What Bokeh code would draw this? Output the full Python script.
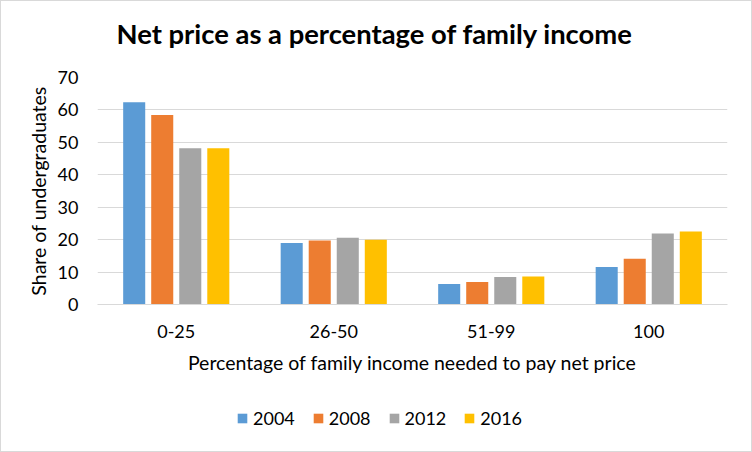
from bokeh.plotting import figure
from bokeh.layouts import column
from bokeh.models import ColumnDataSource, FactorRange, Legend, LegendItem, SingleIntervalTicker, Range1d, Title
from bokeh.transform import dodge
from bokeh.embed import file_html
from bokeh.resources import INLINE

categories = ["0-25", "26-50", "51-99", "100"]
years = ["2004", "2008", "2012", "2016"]
v2004 = [62.4, 19.0, 6.3, 11.6]
v2008 = [58.4, 19.7, 6.9, 14.1]
v2012 = [48.2, 20.6, 8.5, 21.9]
v2016 = [48.2, 20.0, 8.6, 22.5]
colors = ["#5B9BD5", "#ED7D31", "#A5A5A5", "#FFC000"]

source = ColumnDataSource(dict(cat=categories, y2004=v2004, y2008=v2008, y2012=v2012, y2016=v2016))

FONT = "Lato"

p = figure(title=None, x_range=FactorRange(*categories, range_padding=0), y_range=(0, 70),
           width=750, height=379, output_backend="svg", toolbar_location=None,
           min_border_left=96, min_border_right=24, min_border_top=76, min_border_bottom=76)

offsets = [-0.267, -0.089, 0.089, 0.267]
renderers = []
for yr, col, off in zip(years, colors, offsets):
    r = p.vbar(x=dodge("cat", off, range=p.x_range), top="y" + yr, width=0.14,
               source=source, fill_color=col, line_color=None)
    renderers.append(r)

# spacer between title and plot area, then the title itself
p.add_layout(Title(text=" ", text_font_size="1px", standoff=20), "above")
p.add_layout(Title(text="Net price as a percentage of family income", text_font=FONT,
                   text_font_size="27.4px", text_font_style="bold", text_color="#000000",
                   align="left", offset=19, standoff=10), "above")

p.outline_line_color = None
p.background_fill_color = "white"
p.border_fill_color = "white"
p.xgrid.grid_line_color = None
p.ygrid.grid_line_color = "#D9D9D9"
p.ygrid.grid_line_width = 1

p.yaxis.ticker = SingleIntervalTicker(interval=10)
p.yaxis.axis_line_color = None
p.yaxis.major_tick_line_color = None
p.yaxis.minor_tick_line_color = None
p.yaxis.major_label_text_font = FONT
p.yaxis.major_label_text_font_size = "18px"
p.yaxis.major_label_text_color = "#000000"
p.yaxis.major_label_standoff = 13
p.yaxis.axis_label = "Share of undergraduates"
p.yaxis.axis_label_text_font = FONT
p.yaxis.axis_label_text_font_size = "19.5px"
p.yaxis.axis_label_text_font_style = "normal"
p.yaxis.axis_label_text_color = "#000000"
p.yaxis.axis_label_standoff = 5

p.xaxis.axis_line_color = "#D9D9D9"
p.xaxis.major_tick_line_color = None
p.xaxis.minor_tick_line_color = None
p.xaxis.major_label_text_font = FONT
p.xaxis.major_label_text_font_size = "18px"
p.xaxis.major_label_text_color = "#000000"
p.xaxis.major_label_standoff = 14
p.xaxis.axis_label = "Percentage of family income needed to pay net price"
p.xaxis.axis_label_text_font = FONT
p.xaxis.axis_label_text_font_size = "19.5px"
p.xaxis.axis_label_text_font_style = "normal"
p.xaxis.axis_label_text_color = "#000000"
p.xaxis.axis_label_standoff = 10

# legend strip below the chart (bars drawn here lie outside its visible range)
leg = figure(width=750, height=71, output_backend="svg", toolbar_location=None,
             x_range=FactorRange(*categories), y_range=Range1d(100, 101),
             min_border_left=0, min_border_right=0, min_border_top=0, min_border_bottom=0)
leg.axis.visible = False
leg.grid.visible = False
leg.outline_line_color = None
leg_renderers = []
for yr, col in zip(years, colors):
    leg_renderers.append(leg.vbar(x="cat", top="y" + yr, width=0.1, source=source,
                                  fill_color=col, line_color=None))

legend = Legend(items=[LegendItem(label=yr, renderers=[r]) for yr, r in zip(years, leg_renderers)],
                orientation="horizontal", location=(139, 22),
                label_text_font=FONT, label_text_font_size="18px", label_text_color="#000000",
                glyph_width=12, glyph_height=12, label_standoff=5, spacing=17,
                padding=0, margin=0, border_line_color=None, background_fill_alpha=0)
leg.add_layout(legend, "center")

layout = column(p, leg, spacing=0, styles={"border": "1px solid #D9D9D9"})

open("out.html", "w").write(file_html(layout, INLINE))
